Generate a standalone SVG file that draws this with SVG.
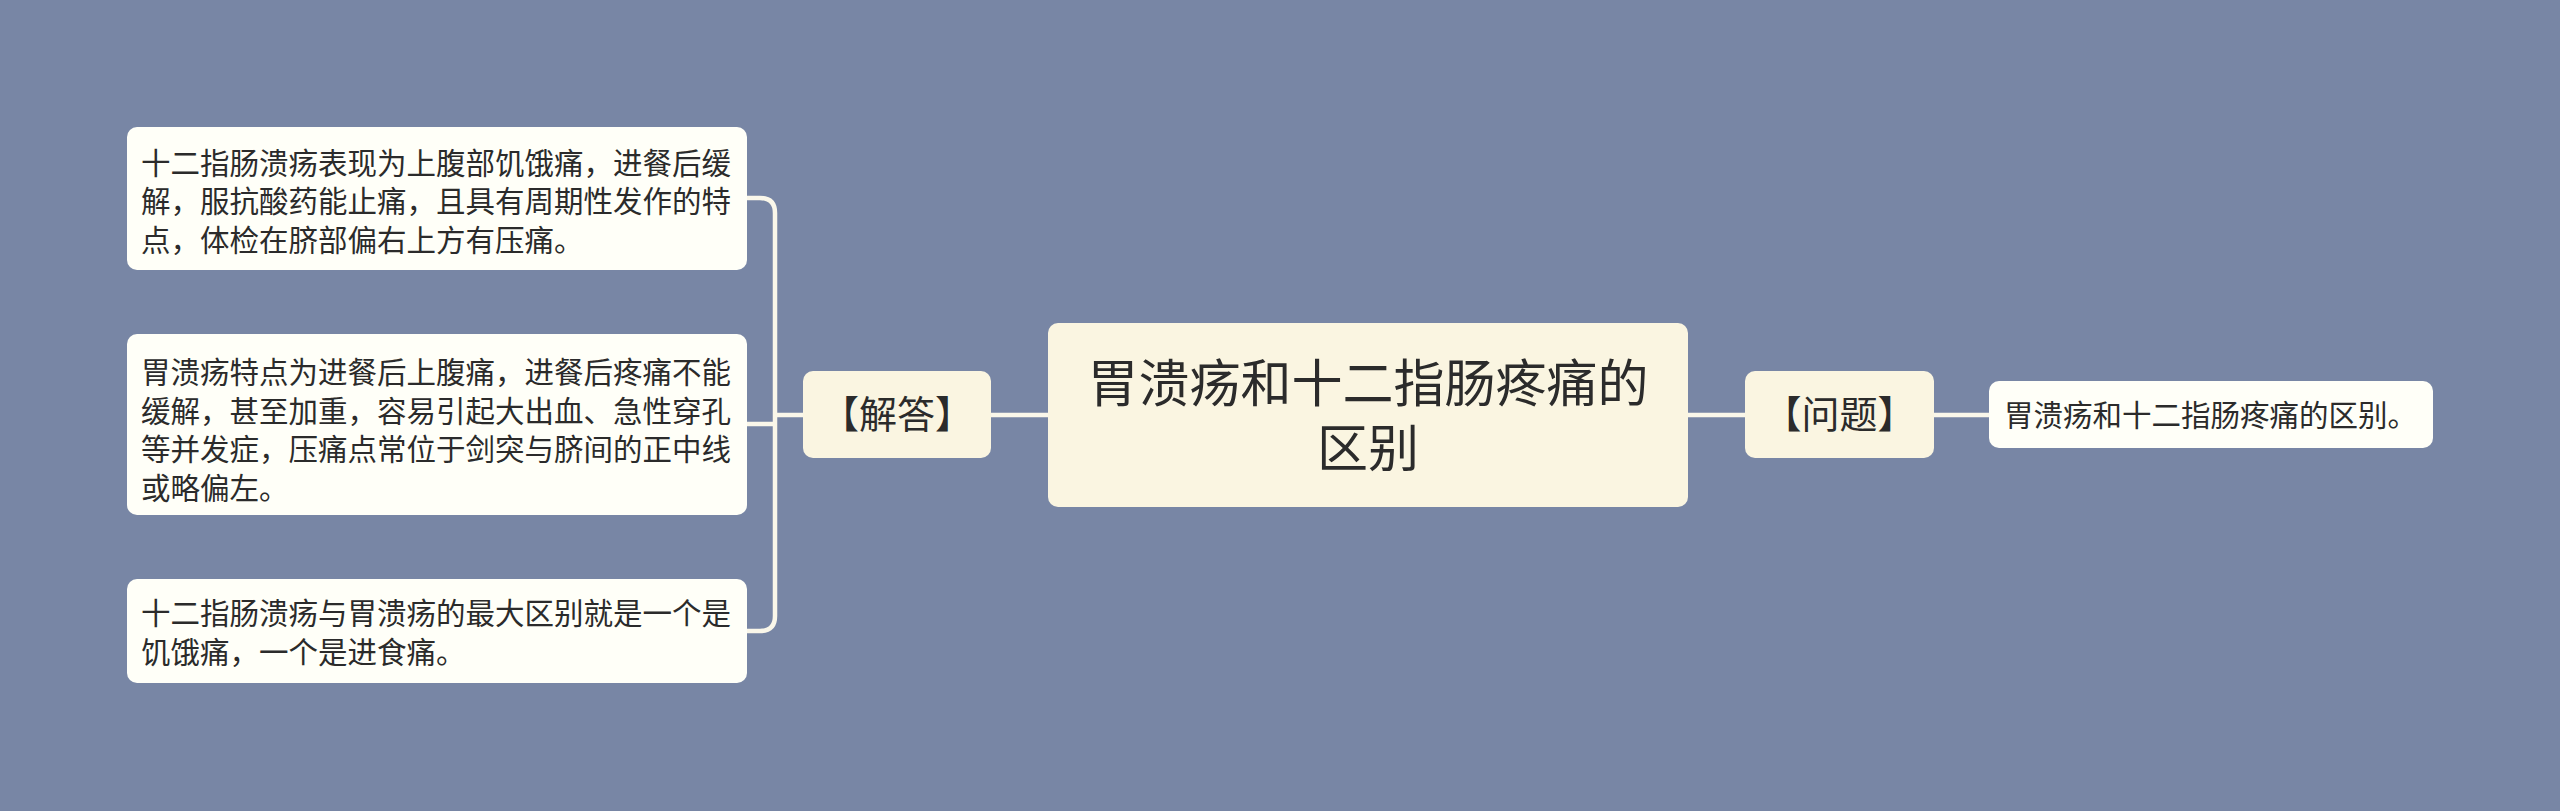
<svg xmlns="http://www.w3.org/2000/svg" width="2560" height="811" viewBox="0 0 2560 811">
<style>
.bg{fill:#7886A5}
.leaf{fill:#FFFFF8}
.main{fill:#FAF5E1}
.t{font-family:"Noto Sans CJK SC","Noto Sans",sans-serif;fill:#2B2B2B}
.s{font-size:29.5px}
.m{font-size:38px}
.c{font-size:51px}
.conn{fill:none;stroke:#FAF7EA;stroke-width:4.5}
</style>
<rect class="bg" x="0" y="0" width="2560" height="811"/>
<g id="connectors">
<path class="conn" d="M747,198 H760 Q775,198 775,213 V616 Q775,631 760,631 H747"/>
<path class="conn" d="M747,424 H775"/>
<path class="conn" d="M775,415 H803"/>
<path class="conn" d="M991,415 H1048"/>
<path class="conn" d="M1688,415 H1745"/>
<path class="conn" d="M1934,415 H1989"/>
</g>
<g id="center">
<rect class="main" x="1048" y="323" width="640" height="184" rx="10"/>
<text class="t c" text-anchor="middle"><tspan x="1368" y="402">胃溃疡和十二指肠疼痛的</tspan><tspan x="1368" y="467">区别</tspan></text>
</g>
<g id="answer">
<rect class="main" x="803" y="371" width="188" height="87" rx="10"/>
<text class="t m" x="897" y="428" text-anchor="middle">【解答】</text>
</g>
<g id="question">
<rect class="main" x="1745" y="371" width="189" height="87" rx="10"/>
<text class="t m" x="1839.5" y="428" text-anchor="middle">【问题】</text>
</g>
<g id="leaf-question">
<rect class="leaf" x="1989" y="381" width="444" height="67" rx="10"/>
<text class="t s" x="2004" y="426">胃溃疡和十二指肠疼痛的区别。</text>
</g>
<g id="leaf-1">
<rect class="leaf" x="127" y="127" width="620" height="143" rx="10"/>
<text class="t s" x="141" y="173.5">十二指肠溃疡表现为上腹部饥饿痛，进餐后缓</text>
<text class="t s" x="141" y="212">解，服抗酸药能止痛，且具有周期性发作的特</text>
<text class="t s" x="141" y="250.5">点，体检在脐部偏右上方有压痛。</text>
</g>
<g id="leaf-2">
<rect class="leaf" x="127" y="334" width="620" height="181" rx="10"/>
<text class="t s" x="141" y="383">胃溃疡特点为进餐后上腹痛，进餐后疼痛不能</text>
<text class="t s" x="141" y="421.5">缓解，甚至加重，容易引起大出血、急性穿孔</text>
<text class="t s" x="141" y="460">等并发症，压痛点常位于剑突与脐间的正中线</text>
<text class="t s" x="141" y="498.5">或略偏左。</text>
</g>
<g id="leaf-3">
<rect class="leaf" x="127" y="579" width="620" height="104" rx="10"/>
<text class="t s" x="141" y="624">十二指肠溃疡与胃溃疡的最大区别就是一个是</text>
<text class="t s" x="141" y="662.5">饥饿痛，一个是进食痛。</text>
</g>
</svg>
